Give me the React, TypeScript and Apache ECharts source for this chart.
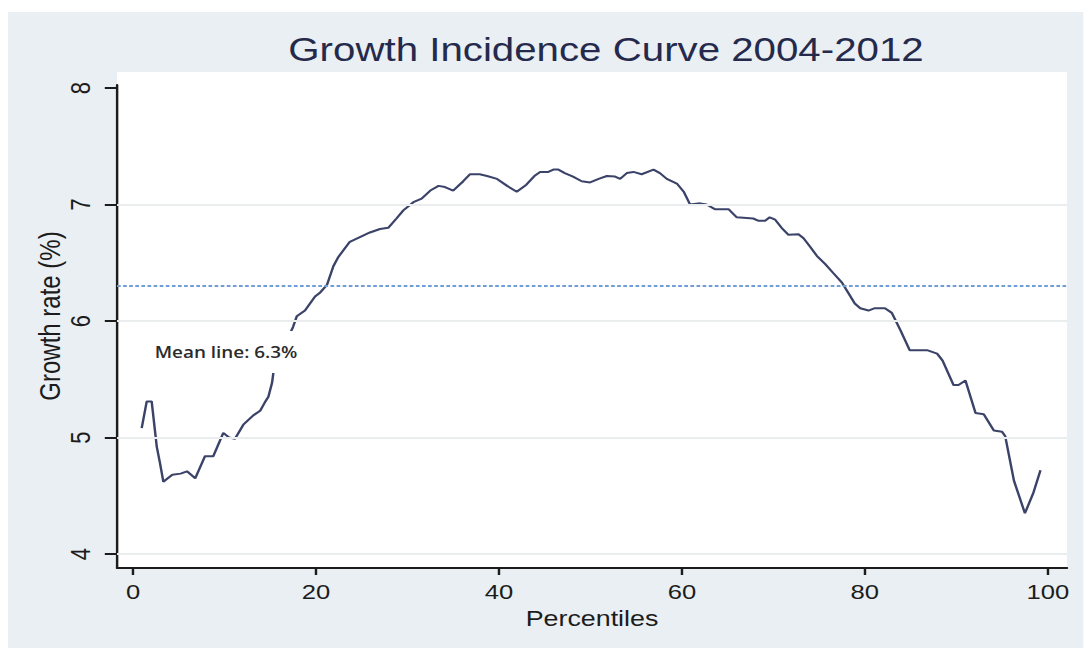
import React, { useEffect, useRef } from "react";
import * as echarts from "echarts";

// Growth incidence curve: annualised growth of per-capita consumption by percentile.
const percentiles = [
  0.95, 1.5, 2.04, 2.6, 2.95, 3.32, 3.8, 4.3, 5.2, 5.9, 6.8, 7.87, 8.78, 9.87, 10.5, 11.15,
  12.06, 13.15, 13.9, 14.4, 14.8, 15.2, 15.4, 17.5, 17.9, 18.8, 19.9, 20.4, 21.2, 21.9,
  22.45, 23.7, 24.8, 25.9, 27.0, 27.9, 28.8, 29.55, 30.65, 31.55, 32.5, 33.4, 34.1, 35.0,
  36.1, 36.85, 37.9, 38.7, 39.8, 40.9, 41.95, 43.0, 43.95, 44.5, 45.4, 45.95, 46.5, 47.2,
  48.1, 49.05, 49.97, 50.9, 51.8, 52.7, 53.25, 53.98, 54.7, 55.6, 56.9, 57.6, 58.35, 59.45,
  60.2, 60.9, 62.0, 62.7, 63.6, 65.1, 66.0, 67.8, 68.4, 69.1, 69.6, 70.2, 70.9, 71.65,
  72.75, 73.3, 74.0, 74.75, 75.65, 76.57, 77.5, 78.2, 78.9, 79.5, 80.4, 81.1, 82.2, 82.95,
  83.9, 84.9, 86.8, 87.9, 88.5, 89.7, 90.24, 91.0, 92.1, 93.0, 94.1, 95.0, 95.35, 96.3,
  97.5, 98.4, 99.2,
];
const growthRates = [
  5.08, 5.31, 5.31, 4.92, 4.78, 4.62, 4.65, 4.68, 4.69, 4.71, 4.65, 4.84, 4.84, 5.04, 5.0,
  4.99, 5.11, 5.19, 5.23, 5.3, 5.35, 5.47, 5.59, 5.95, 6.04, 6.09, 6.21, 6.24, 6.31, 6.47,
  6.55, 6.68, 6.72, 6.76, 6.79, 6.8, 6.88, 6.95, 7.02, 7.05, 7.12, 7.16, 7.15, 7.12,
  7.2, 7.26, 7.26, 7.245, 7.22, 7.16, 7.11, 7.17, 7.25, 7.28, 7.28, 7.3, 7.3, 7.27,
  7.24, 7.2, 7.19, 7.22, 7.245, 7.24, 7.22, 7.27, 7.28, 7.26, 7.3, 7.27, 7.22, 7.18,
  7.11, 7.0, 7.01, 7.0, 6.96, 6.96, 6.89, 6.88, 6.86, 6.86, 6.89, 6.87, 6.8, 6.74,
  6.745, 6.71, 6.64, 6.56, 6.49, 6.41, 6.33, 6.24, 6.15, 6.11, 6.09, 6.11, 6.11, 6.07,
  5.92, 5.75, 5.75, 5.72, 5.66, 5.45, 5.45, 5.49, 5.21, 5.2, 5.06, 5.05, 5.01, 4.63,
  4.35, 4.52, 4.72,
];

const xTickValues = [0, 20, 40, 60, 80, 100];
const yTickValues = [4, 5, 6, 7, 8];
const gridLineValues = [4, 5, 6, 7];
const meanGrowth = 6.3;

const chartTitle = "Growth Incidence Curve 2004-2012";
const xAxisTitle = "Percentiles";
const yAxisTitle = "Growth rate (%)";
const meanLabel = `Mean line: ${meanGrowth}%`;

// The whole figure is laid out narrower and widened with a horizontal scale.
const STRETCH = 1.22;
const PAGE_W = 1084;
const PAGE_H = 648;
const W = Math.floor(PAGE_W / STRETCH);
const sx = (x: number) => x / STRETCH;

const FONT = "'Liberation Sans', Arial, sans-serif";
const INK = "#1c1c1c";

export default function App() {
  const ref = useRef<HTMLDivElement>(null);

  useEffect(() => {
    if (!ref.current) return;
    const chart = echarts.init(ref.current, undefined, { renderer: "svg" });

    const plotLeft = sx(117);
    const plotRight = sx(1067);

    chart.setOption({
      animation: false,
      grid: {
        left: plotLeft,
        right: W - plotRight,
        top: 85,
        bottom: PAGE_H - 568,
        containLabel: false,
      },
      xAxis: {
        type: "value",
        min: -1.75,
        max: 102.1,
        name: xAxisTitle,
        nameLocation: "middle",
        nameGap: 27,
        nameTextStyle: { fontSize: 22, color: INK, fontFamily: FONT },
        axisLine: { show: true, onZero: false, lineStyle: { color: INK, width: 2 } },
        axisTick: { show: true, length: 7, customValues: xTickValues, lineStyle: { color: INK, width: 2 } },
        axisLabel: { customValues: xTickValues, fontSize: 21, color: INK, fontFamily: FONT, margin: 13 },
        splitLine: { show: false },
      },
      yAxis: {
        type: "value",
        min: 3.88,
        max: 8.026,
        axisLine: { show: true, onZero: false, lineStyle: { color: INK, width: 2 } },
        axisTick: { show: true, length: 10, customValues: yTickValues, lineStyle: { color: INK, width: 2 } },
        axisLabel: {
          customValues: yTickValues,
          rotate: 90,
          fontSize: 22,
          color: INK,
          fontFamily: FONT,
          margin: 19,
        },
        splitLine: { show: false },
      },
      series: [
        {
          // reference lines: horizontal grid and the mean growth rate
          type: "line",
          data: [],
          z: 1,
          silent: true,
          markLine: {
            silent: true,
            symbol: "none",
            animation: false,
            label: { show: false },
            data: [
              ...gridLineValues.map((v) => ({
                yAxis: v,
                lineStyle: { color: "#eaeded", width: 2, type: "solid" },
              })),
              {
                yAxis: meanGrowth,
                lineStyle: { color: "#6f9dd6", width: 2, type: [3, 2] },
              },
            ],
          },
        },
        {
          type: "line",
          data: percentiles.map((p, i) => [p, growthRates[i]]),
          showSymbol: false,
          symbol: "none",
          z: 3,
          lineStyle: { color: "#3b4368", width: 2 },
        },
      ],
      graphic: [
        {
          type: "rect",
          silent: true,
          z: -20,
          shape: { x: sx(8), y: 12, width: W - sx(8) + 4, height: PAGE_H - 12 },
          style: { fill: "#e9eff2" },
        },
        {
          type: "rect",
          silent: true,
          z: -10,
          shape: { x: plotLeft, y: 72, width: plotRight - plotLeft, height: 568 - 72 },
          style: { fill: "#ffffff" },
        },
        {
          type: "text",
          silent: true,
          x: sx(606),
          y: 50,
          style: {
            text: chartTitle,
            fontSize: 33,
            fontFamily: FONT,
            fill: "#252a4c",
            textAlign: "center",
            textVerticalAlign: "middle",
          },
        },
        {
          type: "text",
          silent: true,
          x: sx(50),
          y: 316,
          rotation: Math.PI / 2,
          style: {
            text: yAxisTitle,
            fontSize: 24,
            fontFamily: FONT,
            fill: INK,
            textAlign: "center",
            textVerticalAlign: "middle",
          },
        },
        {
          type: "text",
          silent: true,
          z: 100,
          x: sx(226),
          y: 352,
          style: {
            text: meanLabel,
            fontSize: 15.5,
            fontWeight: 600,
            fontFamily: "'Open Sans', 'Noto Sans', sans-serif",
            fill: "#2b2b2b",
            textAlign: "center",
            textVerticalAlign: "middle",
            backgroundColor: "#ffffff",
            padding: [13, 4],
          },
        },
      ],
    });

    return () => chart.dispose();
  }, []);

  return (
    <div
      ref={ref}
      style={{
        position: "absolute",
        left: 0,
        top: 0,
        width: W,
        height: PAGE_H,
        transform: `scaleX(${STRETCH})`,
        transformOrigin: "0 0",
      }}
    />
  );
}
